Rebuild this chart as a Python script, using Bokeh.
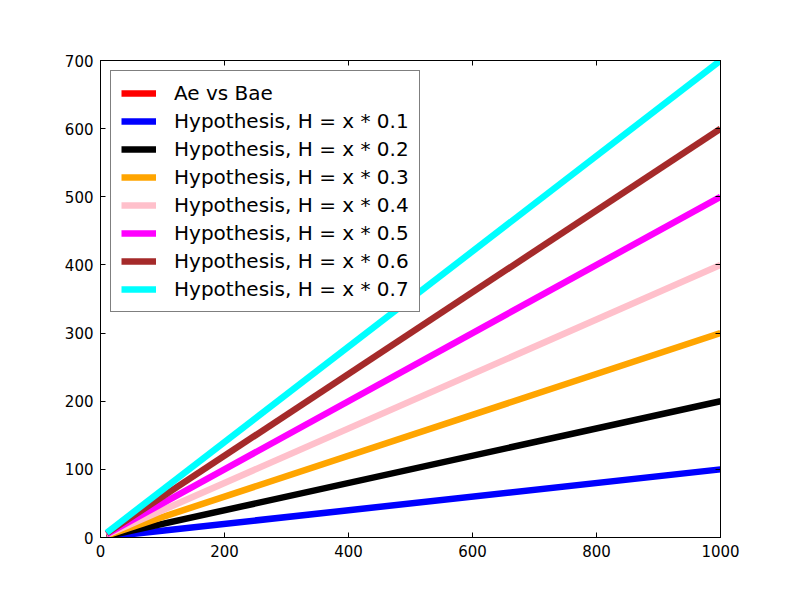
from bokeh.plotting import figure
from bokeh.models import LinearAxis, FixedTicker, Range1d, Legend, LegendItem
from bokeh.embed import file_html
from bokeh.resources import INLINE

# data
x_hyp = [10, 1000]
factors = [0.1, 0.2, 0.3, 0.4, 0.5, 0.6, 0.7]
colors = ["blue", "black", "orange", "pink", "magenta", "brown", "cyan"]
ae_x = [10, 20]
ae_y = [1, 2]
x_ticks = [0, 200, 400, 600, 800, 1000]
y_ticks = [0, 100, 200, 300, 400, 500, 600, 700]

FONT = "DejaVu Sans"

p = figure(frame_width=620, frame_height=477, output_backend="svg", toolbar_location=None,
           x_range=Range1d(0, 1000), y_range=Range1d(0, 700),
           min_border_left=100, min_border_top=60, min_border_right=64, min_border_bottom=44,
           background_fill_color="white", border_fill_color="white")
p.grid.visible = False
p.outline_line_color = "black"
p.outline_line_width = 1

for ax, ticks in ((p.xaxis[0], x_ticks), (p.yaxis[0], y_ticks)):
    ax.ticker = FixedTicker(ticks=ticks)
    ax.major_tick_in = 5
    ax.major_tick_out = 0
    ax.minor_tick_line_color = None
    ax.axis_line_color = "black"
    ax.major_label_text_font = FONT
    ax.major_label_text_font_size = "15px"
    ax.major_label_text_color = "black"
    ax.major_label_standoff = 7

top = LinearAxis(ticker=FixedTicker(ticks=x_ticks), major_label_text_color=None,
                 major_tick_in=5, major_tick_out=0, minor_tick_line_color=None)
right = LinearAxis(ticker=FixedTicker(ticks=y_ticks), major_label_text_color=None,
                   major_tick_in=5, major_tick_out=0, minor_tick_line_color=None)
p.add_layout(top, "above")
p.add_layout(right, "right")

items = []
r = p.line(ae_x, ae_y, line_color="red", line_width=6.5)
items.append(LegendItem(label="Ae vs Bae", renderers=[r]))
for f, c in zip(factors, colors):
    ys = [x * f for x in x_hyp]
    r = p.line(x_hyp, ys, line_color=c, line_width=6.5)
    items.append(LegendItem(label=f"Hypothesis, H = x * {f}", renderers=[r]))

legend = Legend(items=items, location="top_left")
legend.label_text_font = FONT
legend.label_text_font_size = "20px"
legend.label_text_color = "black"
legend.glyph_width = 35
legend.glyph_height = 20
legend.label_height = 20
legend.label_standoff = 18
legend.spacing = 4
legend.padding = 10
legend.margin = 10
legend.border_line_color = "black"
legend.border_line_width = 1
legend.background_fill_alpha = 1
p.add_layout(legend, "center")

open("out.html", "w").write(file_html(p, INLINE))
